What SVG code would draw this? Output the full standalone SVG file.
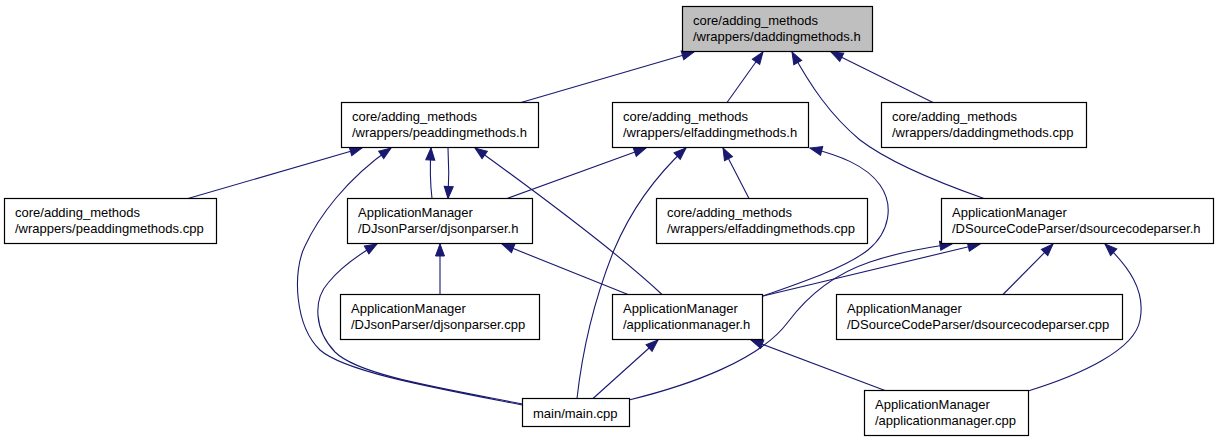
<svg xmlns="http://www.w3.org/2000/svg" width="1217" height="443" viewBox="0 0 1217 443">
<style>
.n rect{fill:#ffffff;stroke:#000000;stroke-width:1.2}
.n.root rect{fill:#bfbfbf}
.n text{font-family:"Liberation Sans",Arial,Helvetica,sans-serif;font-size:13px;fill:#000000}
.e path{fill:none;stroke:#191970;stroke-width:1.1;marker-end:url(#ah)}
</style>
<defs>
<marker id="ah" viewBox="0 0 12 10" refX="12" refY="5" markerWidth="12" markerHeight="10" markerUnits="userSpaceOnUse" orient="auto" style="overflow:visible">
<path d="M0,0.5 L12,5 L0,9.5 z" fill="#191970" stroke="#191970" stroke-width="1"/>
</marker>
</defs>
<rect x="0" y="0" width="1217" height="443" fill="#ffffff"/>
<g id="connectors" class="e">
<path d="M521,102.5 L694,52"/>
<path d="M727,102.5 L763,52"/>
<path d="M984,198.5 C940,183 890,163 860,140 C830,115 810,85 792,52"/>
<path d="M933,102.5 L831,52"/>
<path d="M188,198.5 L362,148"/>
<path d="M522.5,405 C435,388 345,372 320,350 C295,326 292,272 305,246 C318,218 345,180 391,148"/>
<path d="M432,198.5 C430,182 430,165 431,148"/>
<path d="M448,148 C449,165 449,182 448,198.5"/>
<path d="M662,294.5 C620,255 540,195 475,148"/>
<path d="M507,198.5 L646,148"/>
<path d="M577,398.5 C583,345 596,295 614,250 C633,205 660,172 686,148"/>
<path d="M749,198.5 L723,148"/>
<path d="M763,296 C800,283 845,268 868,250 C890,232 894,205 880,185 C866,165 838,155 810,148"/>
<path d="M763,296 L980,244"/>
<path d="M629,400 C690,385 760,360 788,322 C812,290 840,272 870,262 C900,252 925,248 952,244"/>
<path d="M1003,294.5 L1053,244"/>
<path d="M1028,391 C1080,375 1135,350 1140,320 C1146,290 1128,266 1105,244"/>
<path d="M440,294.5 L440,244"/>
<path d="M522.5,404 C440,388 358,375 335,352 C314,330 313,300 328,283 C340,268 358,255 377,244"/>
<path d="M628,294.5 L502,244"/>
<path d="M593,398.5 L658,340"/>
<path d="M885,390.5 L751,340"/>
</g>
<g id="n_dadd_h" class="n root">
<rect x="682.5" y="6.5" width="190" height="45"/>
<text x="693" y="24.5">core/adding_methods</text>
<text x="693" y="40.5">/wrappers/daddingmethods.h</text>
</g>
<g id="n_pe_h" class="n">
<rect x="341.5" y="102.5" width="197" height="45"/>
<text x="352" y="120.5">core/adding_methods</text>
<text x="352" y="136.5">/wrappers/peaddingmethods.h</text>
</g>
<g id="n_elf_h" class="n">
<rect x="612.5" y="102.5" width="196" height="45"/>
<text x="623" y="120.5">core/adding_methods</text>
<text x="623" y="136.5">/wrappers/elfaddingmethods.h</text>
</g>
<g id="n_dadd_cpp" class="n">
<rect x="881.5" y="102.5" width="205" height="45"/>
<text x="892" y="120.5">core/adding_methods</text>
<text x="892" y="136.5">/wrappers/daddingmethods.cpp</text>
</g>
<g id="n_pe_cpp" class="n">
<rect x="4.5" y="198.5" width="212" height="45"/>
<text x="15" y="216.5">core/adding_methods</text>
<text x="15" y="232.5">/wrappers/peaddingmethods.cpp</text>
</g>
<g id="n_djson_h" class="n">
<rect x="347.5" y="198.5" width="185" height="45"/>
<text x="358" y="216.5">ApplicationManager</text>
<text x="358" y="232.5">/DJsonParser/djsonparser.h</text>
</g>
<g id="n_elf_cpp" class="n">
<rect x="656.5" y="198.5" width="211" height="45"/>
<text x="667" y="216.5">core/adding_methods</text>
<text x="667" y="232.5">/wrappers/elfaddingmethods.cpp</text>
</g>
<g id="n_dsrc_h" class="n">
<rect x="941.5" y="198.5" width="272" height="45"/>
<text x="952" y="216.5">ApplicationManager</text>
<text x="952" y="232.5">/DSourceCodeParser/dsourcecodeparser.h</text>
</g>
<g id="n_djson_cpp" class="n">
<rect x="340.5" y="294.5" width="199" height="45"/>
<text x="351" y="312.5">ApplicationManager</text>
<text x="351" y="328.5">/DJsonParser/djsonparser.cpp</text>
</g>
<g id="n_appman_h" class="n">
<rect x="612.5" y="294.5" width="150" height="45"/>
<text x="623" y="312.5">ApplicationManager</text>
<text x="623" y="328.5">/applicationmanager.h</text>
</g>
<g id="n_dsrc_cpp" class="n">
<rect x="836.5" y="294.5" width="286" height="45"/>
<text x="847" y="312.5">ApplicationManager</text>
<text x="847" y="328.5">/DSourceCodeParser/dsourcecodeparser.cpp</text>
</g>
<g id="n_main_cpp" class="n">
<rect x="522.5" y="398.5" width="107" height="28"/>
<text x="533" y="417.5">main/main.cpp</text>
</g>
<g id="n_appman_cpp" class="n">
<rect x="864.5" y="390.5" width="164" height="45"/>
<text x="875" y="408.5">ApplicationManager</text>
<text x="875" y="424.5">/applicationmanager.cpp</text>
</g>
</svg>
